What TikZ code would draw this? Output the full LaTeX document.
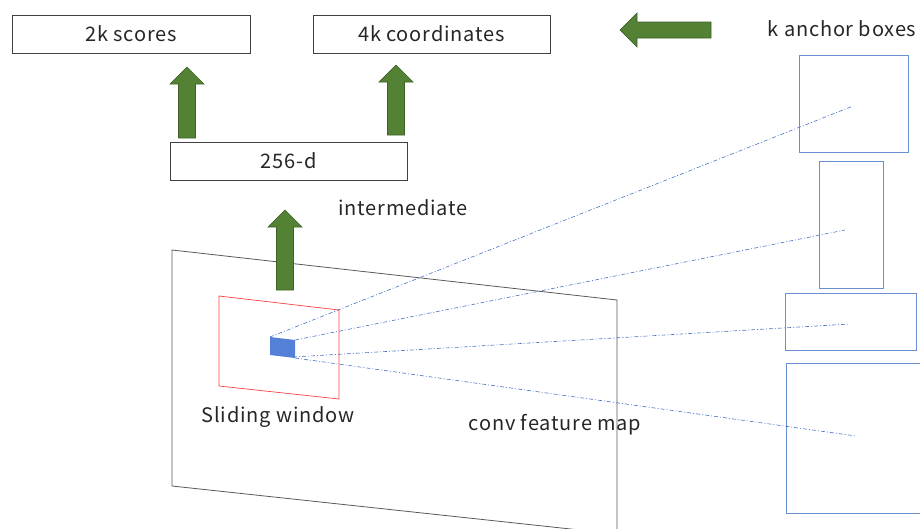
\documentclass[tikz,border=0pt]{standalone}
\usepackage{fontspec}
\setmainfont{Noto Sans CJK JP}[LetterSpace=4]
\begin{document}
\begin{tikzpicture}[x=1pt,y=-1pt,
  every node/.style={font=\fontsize{20}{22}\selectfont, text=black!85},
  labelbox/.style={draw=black!75, line width=0.7pt, minimum height=38pt, inner sep=0pt},
  anchorbox/.style={draw=anc, line width=0.8pt, inner sep=0pt},
  ray/.style={draw=ray, line width=0.6pt, dash pattern=on 4pt off 2pt on 1pt off 2pt},
  blockarrow/.style={fill=arrowgreen, draw=arrowedge, line width=0.7pt, line join=miter}]
\definecolor{anc}{HTML}{6A8FD3}
\definecolor{ray}{HTML}{4472C4}
\definecolor{arrowgreen}{HTML}{548235}
\definecolor{arrowedge}{HTML}{3E6128}
\definecolor{patch}{HTML}{5580D8}
\useasboundingbox (0,0) rectangle (920,528);

% output boxes
\node[labelbox, minimum width=238pt] (scores) at (131,34) {2k scores};
\node[labelbox, minimum width=237pt] (coords) at (431.5,34) {4k coordinates};
\node[labelbox, minimum width=237pt] (inter) at (288.5,161) {256-d};

% upward block arrows: centre x, tip y, tail y
\newcommand\blockup[3]{%
  \draw[blockarrow] (#1-8.5,#3) -- (#1-8.5,#2+17) -- (#1-17,#2+17) -- (#1,#2)
    -- (#1+17,#2+17) -- (#1+8.5,#2+17) -- (#1+8.5,#3) -- cycle;}
\blockup{187}{67}{138}
\blockup{396}{65}{135}

% feature map plane (continues below the lower edge)
\coordinate (fm1) at (172,250);
\coordinate (fm2) at (617,300);
\coordinate (fm3) at (617,534);
\coordinate (fm4) at (172,486);
\draw[black!65, line width=0.8pt] (fm1) -- (fm2) -- (fm3) -- (fm4) -- cycle;

\blockup{285}{210}{290}

% sliding window
\coordinate (w1) at (219,296);
\coordinate (w2) at (339,310);
\coordinate (w3) at (339,399);
\coordinate (w4) at (219,386);
\draw[red!75, line width=0.7pt] (w1) -- (w2) -- (w3) -- (w4) -- cycle;

% window centre patch
\coordinate (p1) at (270,337);
\coordinate (p2) at (295,340);
\coordinate (p3) at (295,358);
\coordinate (p4) at (270,355);
\fill[patch] (p1) -- (p2) -- (p3) -- (p4) -- cycle;

% left-pointing block arrow
\draw[blockarrow] (711,22) -- (637,22) -- (637,13) -- (620,30) -- (637,47)
  -- (637,38) -- (711,38) -- cycle;

% anchor boxes
\node[anchorbox, minimum width=109pt, minimum height=97pt] (a1) at (853.5,103.5) {};
\node[anchorbox, minimum width=64pt, minimum height=127pt] (a2) at (851,224.5) {};
\node[anchorbox, minimum width=131pt, minimum height=57pt] (a3) at (850.5,321.5) {};
\node[anchorbox, minimum width=140pt, minimum height=150pt] (a4) at (856,438) {};

% rays from the patch to the anchor centres
\coordinate (c1) at (853,106);
\coordinate (c2) at (845,230);
\coordinate (c3) at (850,324);
\coordinate (c4) at (856,436);
\draw[ray] (p1) -- (c1);
\draw[ray] (p2) -- (c2);
\draw[ray] (293,357) -- (c3);
\draw[ray] (p3) -- (c4);

% labels
\node (lint) at (403,208) {intermediate};
\node (lslide) at (278,417) {Sliding window};
\node (lconv) at (555,425) {conv feature map};
\node (lanchor) at (842,29) {k anchor boxes};
\end{tikzpicture}
\end{document}
